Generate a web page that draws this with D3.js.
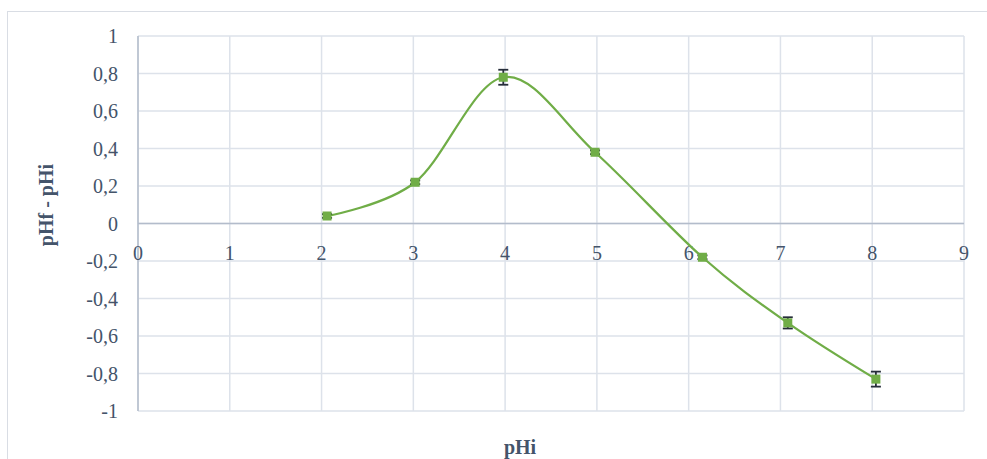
<!DOCTYPE html>
<html><head><meta charset="utf-8">
<script src="https://cdn.jsdelivr.net/npm/d3@7"></script>
<style>body{margin:0;background:#fff}svg{display:block}
text{font-family:"Liberation Serif","Times New Roman",serif}</style>
</head><body>
<script>
const xValues = [2.06, 3.02, 3.98, 4.98, 6.15, 7.08, 8.04];
const yValues = [0.04, 0.22, 0.78, 0.38, -0.18, -0.53, -0.83];
const yErrors = [0.01, 0.01, 0.04, 0.01, 0.01, 0.03, 0.04];
const xTicks = [0,1,2,3,4,5,6,7,8,9];
const yTicks = [-1,-0.8,-0.6,-0.4,-0.2,0,0.2,0.4,0.6,0.8,1];
const xTitle = "pHi";
const yTitle = "pHf - pHi";

const W = 987, H = 459;
const svg = d3.select("body").append("svg").attr("width", W).attr("height", H);
const txt = "#44546a";

svg.append("rect").attr("x",7.5).attr("y",11.5).attr("width",990).attr("height",470)
  .attr("fill","#fff").attr("stroke","#d9dde4").attr("stroke-width",1);

const x = d3.scaleLinear().domain([0,9]).range([138,964]);
const y = d3.scaleLinear().domain([-1,1]).range([411,36]);

const g = svg.append("g");
g.selectAll("line.vg").data(xTicks).join("line")
  .attr("x1",d=>x(d)).attr("x2",d=>x(d)).attr("y1",y(1)).attr("y2",y(-1))
  .attr("stroke","#dde2ea").attr("stroke-width",1.5);
g.selectAll("line.hg").data(yTicks).join("line")
  .attr("y1",d=>y(d)).attr("y2",d=>y(d)).attr("x1",x(0)).attr("x2",x(9))
  .attr("stroke","#dde2ea").attr("stroke-width",1.5);
g.append("line").attr("x1",x(0)).attr("x2",x(0)).attr("y1",y(1)).attr("y2",y(-1))
  .attr("stroke","#b3bccb").attr("stroke-width",1.5);
g.append("line").attr("x1",x(0)).attr("x2",x(9)).attr("y1",y(0)).attr("y2",y(0))
  .attr("stroke","#b3bccb").attr("stroke-width",1.5);

svg.selectAll("text.xt").data(xTicks).join("text")
  .attr("x",d=>x(d)).attr("y",y(0)+36).attr("text-anchor","middle")
  .attr("font-size",20).attr("fill",txt).text(d=>d);
svg.selectAll("text.yt").data(yTicks).join("text")
  .attr("x",118).attr("y",d=>y(d)).attr("dy","0.35em").attr("text-anchor","end")
  .attr("font-size",20).attr("fill",txt)
  .text(d=>String(+d.toFixed(1)).replace(".",","));

svg.append("text").attr("x",520).attr("y",454).attr("text-anchor","middle")
  .attr("font-size",20).attr("font-weight","bold").attr("fill",txt).text(xTitle);
svg.append("text").attr("transform","translate(53,205) rotate(-90)").attr("text-anchor","middle")
  .attr("font-size",20).attr("font-weight","bold").attr("fill",txt).text(yTitle);

const data = xValues.map((v,i)=>({x:v,y:yValues[i],e:yErrors[i]}));
const line = d3.line().x(d=>x(d.x)).y(d=>y(d.y)).curve(d3.curveCardinal.tension(0));
svg.append("path").datum(data).attr("d",line).attr("fill","none")
  .attr("stroke","#70ad47").attr("stroke-width",2.25);

const eb = svg.selectAll("g.eb").data(data).join("g").attr("stroke","#262d3a").attr("stroke-width",1.8);
eb.append("line").attr("x1",d=>x(d.x)).attr("x2",d=>x(d.x)).attr("y1",d=>y(d.y+d.e)).attr("y2",d=>y(d.y-d.e));
eb.append("line").attr("x1",d=>x(d.x)-5).attr("x2",d=>x(d.x)+5).attr("y1",d=>y(d.y+d.e)).attr("y2",d=>y(d.y+d.e));
eb.append("line").attr("x1",d=>x(d.x)-5).attr("x2",d=>x(d.x)+5).attr("y1",d=>y(d.y-d.e)).attr("y2",d=>y(d.y-d.e));
svg.selectAll("rect.m").data(data).join("rect")
  .attr("x",d=>x(d.x)-4.5).attr("y",d=>y(d.y)-4.5).attr("width",9).attr("height",9)
  .attr("fill","#70ad47");
</script>
</body></html>
